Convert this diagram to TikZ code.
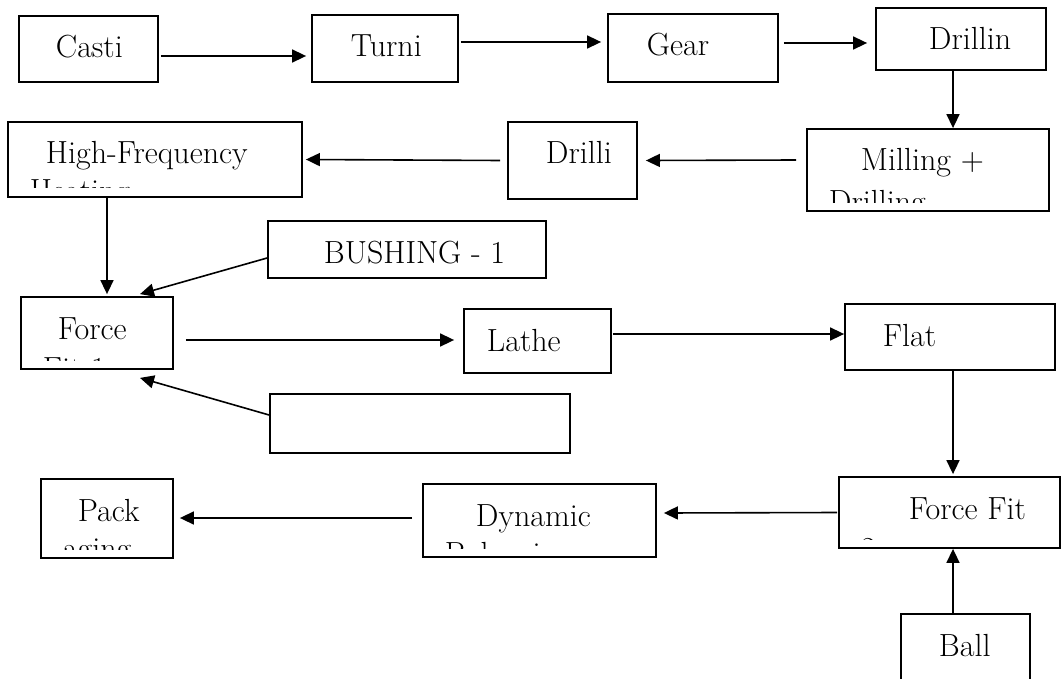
\documentclass[tikz,border=0pt]{standalone}
\usepackage{fontspec}
\usetikzlibrary{arrows.meta}
\begin{document}
\begin{tikzpicture}[>={Triangle[length=14pt,width=13pt]},x=1pt,y=-1pt,
	font=\fontsize{32}{38}\selectfont,
	stage/.style={draw,line width=1.8pt,rectangle,inner sep=0pt},
	line/.style={anchor=base west,inner sep=0pt,minimum size=0pt,draw=none},
	words/.style n args={4}{path picture={
		\clip ([yshift=9pt]path picture bounding box.south west) rectangle (path picture bounding box.north east);
		\path ([shift={(21pt+#1pt,-42pt)}]path picture bounding box.north west) node[line] {#2}
		([shift={(21pt,-42pt-#3pt)}]path picture bounding box.north west) node[line] {#4};
	}},
	flow/.style={->,line width=1.6pt}]
	\useasboundingbox (0,0) rectangle (1062,679);
	\path
	(88.5,49)    node[stage,minimum width=139,minimum height=66,words={15}{Casti}{0}{}]                 (casti) {}
	(385,48.5)   node[stage,minimum width=146,minimum height=67,words={17}{Turni}{0}{}]                 (turni) {}
	(693,48)     node[stage,minimum width=170,minimum height=68,words={17}{Gear}{0}{}]                  (gear) {}
	(961,39)     node[stage,minimum width=170,minimum height=62,words={31}{Drillin}{0}{}]               (drillin) {}
	(928,170)    node[stage,minimum width=242,minimum height=82,words={32}{Milling +}{41}{Drilling}]    (milling) {}
	(572.5,160.5) node[stage,minimum width=129,minimum height=77,words={16}{Drilli}{0}{}]               (drilli) {}
	(155,159.5)  node[stage,minimum width=294,minimum height=75,words={16}{High-Frequency}{37}{Heating}] (heating) {}
	(407,249.5)  node[stage,minimum width=278,minimum height=57,words={34}{BUSHING - 1}{0}{}]           (bushing) {}
	(97,333)     node[stage,minimum width=152,minimum height=72,words={15}{Force}{40}{Fit 1}]           (fitone) {}
	(537.5,341)  node[stage,minimum width=147,minimum height=64,words={1}{Lathe}{0}{}]                  (lathe) {}
	(950,337)    node[stage,minimum width=210,minimum height=66,words={16}{Flat}{0}{}]                  (flat) {}
	(420,423.5)  node[stage,minimum width=300,minimum height=59]                                        (blank) {}
	(949.5,512.5) node[stage,minimum width=221,minimum height=71,words={48}{Force Fit}{40}{2}]          (fittwo) {}
	(539.5,520.5) node[stage,minimum width=233,minimum height=73,words={31}{Dynamic}{38}{Balancing}]    (balancing) {}
	(107,518.5)  node[stage,minimum width=132,minimum height=79,words={15}{Pack}{38}{aging}]            (packing) {}
	(965.5,654)  node[stage,minimum width=129,minimum height=80,words={16}{Ball}{0}{}]                  (ball) {};
	\draw[flow] ([xshift=2pt,yshift=-7pt]casti.east) -- ([xshift=-5pt,yshift=-7.5pt]turni.west);
	\draw[flow] ([xshift=2pt,yshift=6.5pt]turni.east) -- ([xshift=-6pt,yshift=6pt]gear.west);
	\draw[flow] ([xshift=5pt,yshift=5pt]gear.east) -- ([xshift=-8pt,yshift=-4pt]drillin.west);
	\draw[flow] ([xshift=-8pt]drillin.south) -- ([xshift=25pt]milling.north);
	\draw[flow] ([xshift=-10pt,yshift=10pt]milling.west) -- ([xshift=8pt]drilli.east);
	\draw[flow] ([xshift=-7pt]drilli.west) -- ([xshift=3pt]heating.east);
	\draw[flow] ([xshift=-48pt]heating.south) -- ([xshift=10pt,yshift=2pt]fitone.north);
	\draw[flow] ([yshift=-8.5pt]bushing.west) -- ([xshift=43pt,yshift=2pt]fitone.north);
	\draw[flow] ([xshift=12pt,yshift=-7pt]fitone.east) -- ([xshift=-9pt,yshift=1pt]lathe.west);
	\draw[flow] ([xshift=1pt,yshift=7pt]lathe.east) -- ([yshift=3pt]flat.west);
	\draw[flow] ([yshift=8.5pt]blank.west) -- ([xshift=43pt,yshift=-8pt]fitone.south);
	\draw[flow] ([xshift=3pt]flat.south) -- ([xshift=3.5pt,yshift=2pt]fittwo.north);
	\draw[flow] ([xshift=-1pt]fittwo.west) -- ([xshift=7pt,yshift=7.5pt]balancing.east);
	\draw[flow] ([xshift=-10pt,yshift=2.5pt]balancing.west) -- ([xshift=6pt,yshift=0.5pt]packing.east);
	\draw[flow] ([xshift=-12.5pt]ball.north) -- ([xshift=3.5pt]fittwo.south);
\end{tikzpicture}
\end{document}
